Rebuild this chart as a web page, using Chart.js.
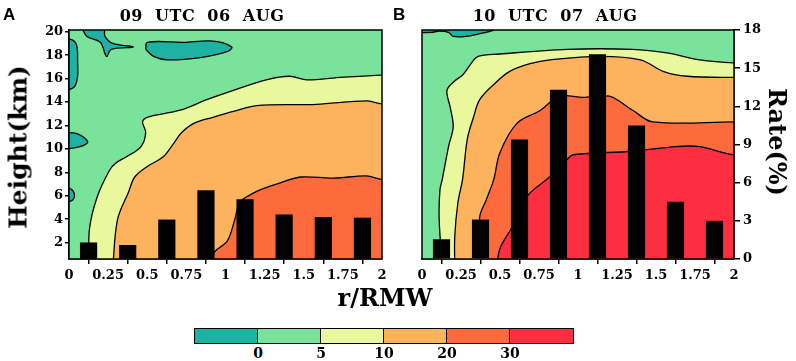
<!DOCTYPE html>
<html><head><meta charset="utf-8">
<script src="https://cdn.jsdelivr.net/npm/chart.js@4.4.1/dist/chart.umd.min.js"></script>
<style>
body{margin:0;background:#fff;width:796px;height:361px;overflow:hidden;position:relative;font-family:"DejaVu Serif";}
.t{position:absolute;white-space:pre;font-weight:bold;line-height:1;color:#000;}
canvas{position:absolute;top:0;}
.box{position:absolute;top:328px;height:16px;box-sizing:border-box;border:1.5px solid #000;}
</style></head><body>
<canvas id="cA" width="400" height="300" style="left:0"></canvas>
<canvas id="cB" width="396" height="300" style="left:400px"></canvas>
<div class="t" style="left:3px;top:6px;font-family:'Liberation Sans';font-size:17px">A</div>
<div class="t" style="left:393px;top:6px;font-family:'Liberation Sans';font-size:17px">B</div>
<div class="t" id="titleA" style="left:202px;top:8px;font-size:16px;letter-spacing:0.5px;transform:translateX(-50%)"></div>
<div class="t" id="titleB" style="left:555px;top:8px;font-size:16px;letter-spacing:0.5px;transform:translateX(-50%)"></div>
<div class="t" style="left:18px;top:147px;font-size:25px;transform:translate(-50%,-50%) rotate(-90deg)">Height(km)</div>
<div class="t" style="left:777px;top:142px;font-size:24px;transform:translate(-50%,-50%) rotate(90deg)">Rate(%)</div>
<div class="t" style="left:385px;top:298px;font-size:24px;transform:translate(-50%,-50%)">r/RMW</div>
<div id="cbar"></div>
<script>
// ---------- data ----------
const titleA = "09  UTC  06  AUG";
const titleB = "10  UTC  07  AUG";
const xTicks = [0, 0.25, 0.5, 0.75, 1, 1.25, 1.5, 1.75, 2];
const heightTicks = [2, 4, 6, 8, 10, 12, 14, 16, 18, 20];
const rateTicks = [0, 3, 6, 9, 12, 15, 18];
const barX = [0.125, 0.375, 0.625, 0.875, 1.125, 1.375, 1.625, 1.875];
const ratesA = [1.3, 1.1, 3.1, 5.4, 4.7, 3.5, 3.3, 3.25];
const ratesB = [1.55, 3.1, 9.4, 13.3, 16.1, 10.5, 4.5, 3.0];
const levelLabels = ["0", "5", "10", "20", "30"];
const levelColors = ["#1cb3a4", "#79e39b", "#e9f79d", "#fdb35e", "#fd6a3c", "#fc2e40"];

// contour boundaries (x = r/RMW, y = height km), each from the bottom edge to the right edge
const A_ge5 = [[0.13,0],[0.13,3.1],[0.18,5.9],[0.26,8.2],[0.3,8.8],[0.37,9.35],[0.46,10.2],[0.49,11.4],[0.47,12.3],[0.5,12.7],[0.71,13.3],[0.88,14.2],[1.05,15.0],[1.26,15.9],[1.41,16.2],[1.52,15.9],[1.69,16.05],[2.0,16.3]];
const A_ge10 = [[0.28,0],[0.31,3.96],[0.38,6.3],[0.42,7.6],[0.5,8.5],[0.6,9.3],[0.67,10.5],[0.72,11.4],[0.8,12.2],[0.92,12.7],[1.05,13.2],[1.2,13.7],[1.58,13.8],[1.9,14.1],[2.0,13.85]];
const A_ge20 = [[0.9,0],[0.93,1.2],[1.01,2.1],[1.06,4.0],[1.09,5.4],[1.16,6.1],[1.26,6.7],[1.35,7.1],[1.48,7.6],[1.69,7.5],[1.9,7.7],[2.0,7.4]];
const A_lt0 = [
  [[-0.05,19.4],[0.02,19.3],[0.05,18.8],[0.055,17.5],[0.055,16.2],[0.04,15.4],[0.01,15.1],[-0.05,15.1],[-0.05,19.4]],
  [[0.08,20.4],[0.115,19.6],[0.2,19.1],[0.24,17.9],[0.27,18.5],[0.41,18.7],[0.28,19.0],[0.23,19.6],[0.22,20.4],[0.08,20.4]],
  [[0.49,18.5],[0.5,19.1],[0.73,19.1],[0.92,19.2],[1.04,18.7],[1.01,18.3],[0.84,17.8],[0.63,17.6],[0.54,17.9],[0.49,18.5]],
  [[-0.05,11.4],[0.05,11.3],[0.12,10.6],[0.07,10.2],[-0.05,10.1],[-0.05,11.4]],
  [[-0.05,6.7],[0.01,6.6],[0.035,6.1],[0.02,5.6],[-0.05,5.5],[-0.05,6.7]]
];
const B_ge5 = [[0.13,0],[0.11,3.96],[0.115,6.5],[0.13,7.4],[0.17,10.2],[0.2,11.9],[0.18,13.6],[0.16,15.0],[0.21,15.8],[0.26,16.3],[0.31,17.2],[0.36,17.9],[0.5,18.1],[0.93,18.5],[1.35,18.5],[1.57,18.2],[1.78,17.6],[2.0,17.35]];
const B_ge10 = [[0.21,0],[0.21,2.5],[0.23,5.4],[0.26,7.4],[0.29,10.8],[0.33,12.7],[0.37,14.2],[0.46,15.5],[0.56,16.6],[0.7,17.3],[0.82,17.6],[1.14,17.9],[1.4,17.6],[1.55,16.6],[1.7,16.2],[2.0,16.1]];
const B_ge20 = [[0.36,0],[0.37,4.2],[0.41,5.6],[0.46,7.4],[0.5,9.7],[0.61,12.2],[0.76,13.3],[0.88,14.5],[1.03,14.4],[1.2,14.5],[1.35,13.3],[1.48,12.3],[2.0,12.3]];
const B_ge30 = [[0.48,0],[0.5,1.5],[0.58,3.4],[0.63,5.0],[0.69,6.2],[0.8,7.4],[0.93,9.1],[0.97,9.5],[1.35,9.8],[1.63,10.2],[1.78,10.2],[2.0,9.5]];
const B_lt0 = [
  [[-0.05,20.4],[-0.05,20.0],[0.06,19.95],[0.11,20.05],[0.17,19.95],[0.2,19.6],[0.28,19.6],[0.36,19.8],[0.45,20.1],[0.5,20.4],[-0.05,20.4]]
];

// ---------- build ----------
document.getElementById('titleA').textContent = titleA;
document.getElementById('titleB').textContent = titleB;

const cb = document.getElementById('cbar');
const cbLeft = 194, cbW = 63;
levelColors.forEach((c, i) => {
  const d = document.createElement('div');
  d.className = 'box';
  d.style.left = (cbLeft + i * cbW) + 'px';
  d.style.width = (cbW + 1.5) + 'px';
  d.style.background = c;
  cb.appendChild(d);
});
levelLabels.forEach((l, i) => {
  const d = document.createElement('div');
  d.className = 't';
  d.style.fontSize = '14px';
  d.style.top = '346px';
  d.style.left = (cbLeft + (i + 1) * cbW + 1) + 'px';
  d.style.transform = 'translateX(-50%)';
  d.textContent = l;
  cb.appendChild(d);
});

const tickFont = { family: 'DejaVu Serif', weight: 'bold', size: 13 };

function closeLevel(pts) {
  const last = pts[pts.length - 1];
  const first = pts[0];
  return pts.concat([[2.3, last[1]], [2.3, -2], [first[0], -2], first]);
}
function poly(pts, color, order) {
  return {
    type: 'line', data: pts.map(p => ({ x: p[0], y: p[1] })), yAxisID: 'h',
    borderColor: '#000', borderWidth: 1.3, backgroundColor: color,
    fill: 'shape', pointRadius: 0, tension: 0.35, order: order
  };
}
const frame = {
  id: 'frame',
  afterDatasetsDraw(chart) {
    const a = chart.chartArea, ctx = chart.ctx;
    ctx.save(); ctx.strokeStyle = '#000'; ctx.lineWidth = 1.5;
    ctx.strokeRect(a.left, a.top, a.right - a.left, a.bottom - a.top);
    ctx.restore();
  }
};
function fitTo(w) { return s => { if (s.options.display) s.width = w; else s.width = 0; }; }

function makePanel(id, levels, blobs, rates, isA) {
  const full = [[-0.3, -2], [2.3, -2], [2.3, 22], [-0.3, 22], [-0.3, -2]];
  const ds = [];
  ds.push({ type: 'bar', data: barX.map((x, i) => ({ x: x, y: rates[i] })), yAxisID: 'rate',
    backgroundColor: '#000', borderWidth: 0, barPercentage: 0.44, categoryPercentage: 1, order: 0 });
  ds.push(poly(full, levelColors[1], 40));
  levels.forEach((pts, i) => ds.push(poly(closeLevel(pts), levelColors[i + 2], 30 - i)));
  blobs.forEach(b => ds.push(poly(b, levelColors[0], 10)));
  new Chart(document.getElementById(id), {
    type: 'line',
    data: { datasets: ds },
    options: {
      responsive: false, animation: false, events: [],
      layout: { padding: isA ? { left: 0, top: 30, right: 18, bottom: 0 } : { left: 22, top: 30, right: 0, bottom: 0 } },
      plugins: { legend: { display: false }, tooltip: { enabled: false } },
      scales: {
        x: {
          type: 'linear', min: 0, max: 2, offset: false,
          afterBuildTicks: s => { s.ticks = xTicks.map(v => ({ value: v })); },
          afterFit: s => { s.height = 41; },
          ticks: { font: tickFont, color: '#000', padding: 4, maxRotation: 0, autoSkip: false, callback: v => String(v) },
          grid: { display: true, drawOnChartArea: false, drawTicks: true, tickLength: 5, color: '#000', lineWidth: 1.5 },
          border: { display: true, color: '#000', width: 1.5 }
        },
        h: {
          type: 'linear', position: 'left', min: 0.6, max: 20.15, display: isA,
          afterBuildTicks: s => { s.ticks = heightTicks.map(v => ({ value: v })); },
          afterFit: fitTo(69),
          ticks: { font: tickFont, color: '#000', padding: 2 },
          grid: { display: true, drawOnChartArea: false, drawTicks: true, tickLength: 4, color: '#000', lineWidth: 1.5 },
          border: { display: true, color: '#000', width: 1.5 }
        },
        rate: {
          type: 'linear', position: 'right', min: 0, max: 18, display: !isA,
          afterBuildTicks: s => { s.ticks = rateTicks.map(v => ({ value: v })); },
          afterFit: fitTo(62),
          ticks: { font: tickFont, color: '#000', padding: 3 },
          grid: { display: true, drawOnChartArea: false, drawTicks: true, tickLength: 6, color: '#000', lineWidth: 1.5 },
          border: { display: true, color: '#000', width: 1.5 }
        }
      }
    },
    plugins: [frame]
  });
}
makePanel('cA', [A_ge5, A_ge10, A_ge20], A_lt0, ratesA, true);
makePanel('cB', [B_ge5, B_ge10, B_ge20, B_ge30], B_lt0, ratesB, false);
</script>
</body></html>
